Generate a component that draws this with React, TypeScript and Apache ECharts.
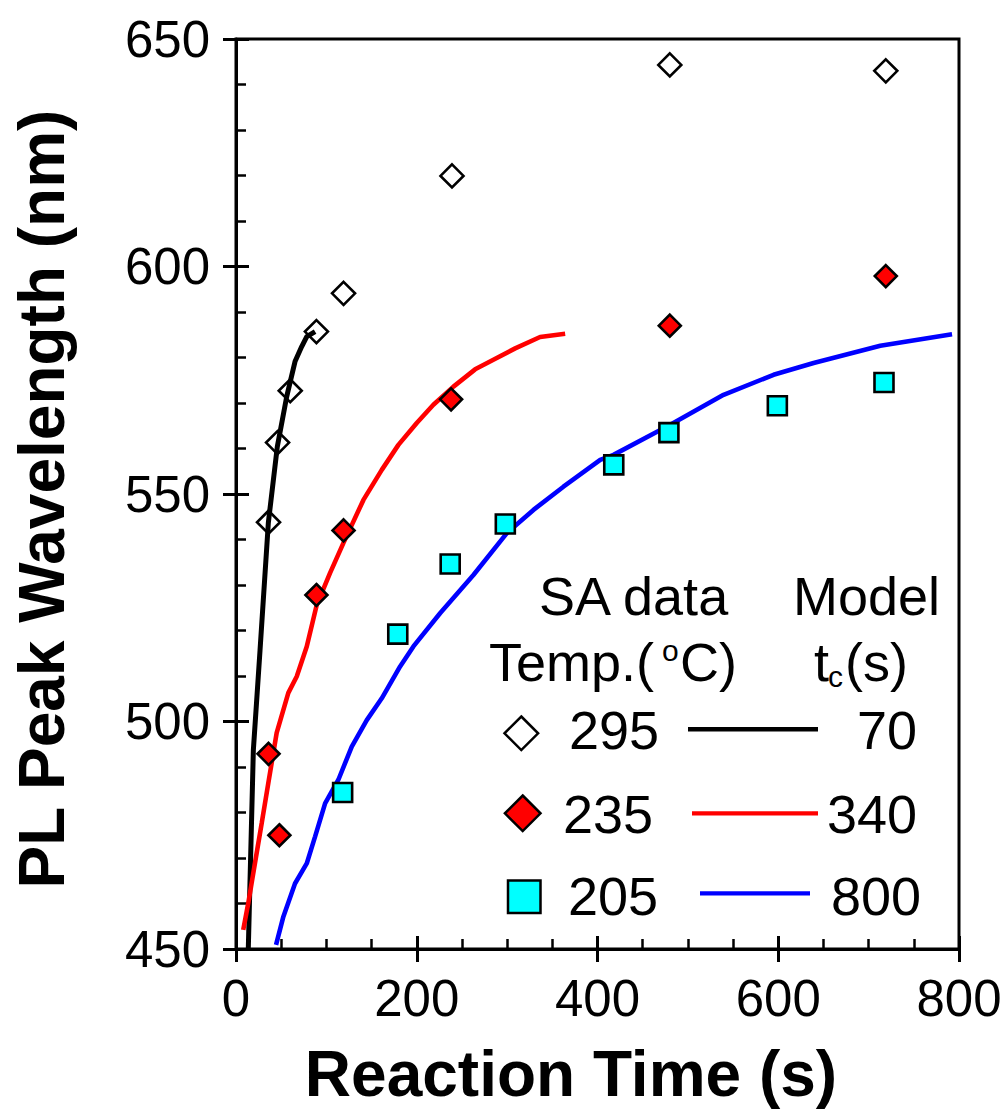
import React, { useEffect, useRef } from 'react';
import * as echarts from 'echarts';

// ---------- data ----------
const xTicks = [0, 200, 400, 600, 800];
const yTicks = [450, 500, 550, 600, 650];

const sa295Time = [36, 46, 60, 89, 119, 239, 480, 719];
const sa295Wl = [543.8, 561.3, 572.7, 585.7, 594.1, 619.9, 644.3, 643];
const sa235Time = [36, 48, 89, 119, 238, 480, 719];
const sa235Wl = [492.9, 475, 527.8, 542, 570.8, 587, 597.9];
const sa205Time = [118, 179, 237, 298, 418, 479, 599, 717];
const sa205Wl = [484.4, 519.2, 534.6, 543.4, 556.4, 563.5, 569.4, 574.5];

const model70Time = [13.6, 19.2, 26.6, 35.8, 45.7, 56.1, 65.3, 72.7, 78.3, 87.5];
const model70Wl = [450, 493.7, 515.7, 543.7, 560.4, 571.4, 579.1, 582.4, 584.6, 585.7];
const model340Time = [8, 13.6, 21, 28.5, 35.8, 45, 57.9, 67.2, 78.3, 89.3, 104, 118.8, 141, 161.3, 179.7, 200, 218.4, 240.6, 264.6, 284.8, 308.9, 336.5, 364.2];
const model340Wl = [454.2, 460.1, 468.9, 477.7, 486.5, 497.5, 506.3, 509.9, 516.5, 525.6, 532.6, 539.2, 548.7, 555.3, 560.8, 565.6, 569.6, 573.6, 577.4, 579.5, 582, 584.5, 585.2];
const model800Time = [44.3, 52.4, 65.3, 78.3, 87.5, 98.6, 113.3, 128.1, 144.7, 161.3, 181.6, 196.3, 225.8, 262.7, 299.7, 329.1, 362.3, 403, 417.7, 480.5, 539.5, 594.8, 639.1, 712.9, 792.3];
const model800Wl = [450.9, 457.1, 464.4, 468.8, 474.7, 482, 487.2, 494.5, 500.3, 505.1, 512.1, 516.5, 523.8, 532.2, 541.4, 546.5, 551.6, 557.5, 558.6, 565.2, 571.8, 576.2, 578.8, 582.6, 585.1];

const legendTemps = ['295', '235', '205'];
const legendTc = ['70', '340', '800'];

const zip = (a: number[], b: number[]) => a.map((v, i) => [v, b[i]]);

const FONT = '"Liberation Sans", Arial, Helvetica, sans-serif';
const GRID = { left: 236, top: 39, width: 723, height: 910 };
const LF = 54;

function txt(text: string, x: number, y: number, size: number, align: string, opts: any = {}) {
  return {
    type: 'text',
    x,
    y,
    rotation: opts.rotation || 0,
    style: {
      text,
      fill: '#000',
      fontSize: size,
      fontFamily: FONT,
      fontWeight: opts.bold ? 'bold' : 'normal',
      align,
      textAlign: align,
      verticalAlign: 'middle',
      textVerticalAlign: 'middle',
    },
    z: 100,
  };
}

function buildOption() {
  const axisCommonX = {
    type: 'value',
    min: xTicks[0],
    max: xTicks[xTicks.length - 1],
    interval: xTicks[1] - xTicks[0],
    splitLine: { show: false },
  };
  const axisCommonY = {
    type: 'value',
    min: yTicks[0],
    max: yTicks[yTicks.length - 1],
    interval: yTicks[1] - yTicks[0],
    splitLine: { show: false },
  };
  const lineStyleAxis = { color: '#000', width: 3 };

  const graphic: any[] = [
    txt('Reaction Time (s)', 571, 1074, 64, 'center', { bold: true }),
    txt('PL Peak Wavelength (nm)', 42, 499, 64, 'center', { bold: true, rotation: Math.PI / 2 }),
    txt('SA data', 539, 596, LF, 'left'),
    txt('Model', 793, 596, LF, 'left'),
    txt('Temp.(', 489, 662, LF, 'left'),
    txt('o', 662, 650, 30, 'left'),
    txt('C)', 680, 662, LF, 'left'),
    txt('t', 814, 662, LF, 'left'),
    txt('c', 828, 676, 30, 'left'),
    txt('(s)', 845, 662, LF, 'left'),
    txt(legendTemps[0], 569, 730, LF, 'left'),
    txt(legendTemps[1], 563, 814, LF, 'left'),
    txt(legendTemps[2], 568, 896, LF, 'left'),
    txt(legendTc[0], 917, 730, LF, 'right'),
    txt(legendTc[1], 917, 814, LF, 'right'),
    txt(legendTc[2], 921, 896, LF, 'right'),
    {
      type: 'polygon',
      shape: { points: [[521.3, 716.5], [538.1, 733.3], [521.3, 750.1], [504.5, 733.3]] },
      style: { fill: '#fff', stroke: '#000', lineWidth: 2.5 },
      z: 100,
    },
    {
      type: 'polygon',
      shape: { points: [[522.7, 795.5], [540.5, 813.3], [522.7, 831.1], [504.9, 813.3]] },
      style: { fill: '#ff0000', stroke: '#000', lineWidth: 2.5 },
      z: 100,
    },
    {
      type: 'rect',
      shape: { x: 508, y: 880.5, width: 32.5, height: 32.5 },
      style: { fill: '#00ffff', stroke: '#000', lineWidth: 2.5 },
      z: 100,
    },
    { type: 'line', shape: { x1: 688, y1: 729.3, x2: 818, y2: 729.3 }, style: { stroke: '#000', lineWidth: 4.5 }, z: 100 },
    { type: 'line', shape: { x1: 692, y1: 813.3, x2: 818, y2: 813.3 }, style: { stroke: '#ff0000', lineWidth: 4.3 }, z: 100 },
    { type: 'line', shape: { x1: 700, y1: 893.3, x2: 810, y2: 893.3 }, style: { stroke: '#0000ff', lineWidth: 4.3 }, z: 100 },
  ];

  return {
    animation: false,
    backgroundColor: '#fff',
    grid: [
      { ...GRID, show: true, borderColor: '#000', borderWidth: 3, backgroundColor: 'transparent' },
      { ...GRID, show: false },
    ],
    xAxis: [
      {
        ...axisCommonX,
        gridIndex: 0,
        position: 'bottom',
        axisLine: { show: true, lineStyle: lineStyleAxis },
        axisTick: { show: true, inside: false, length: 13, lineStyle: lineStyleAxis },
        axisLabel: { show: true, color: '#000', fontSize: 51, fontFamily: FONT, margin: 24 },
      },
      {
        ...axisCommonX,
        gridIndex: 1,
        position: 'bottom',
        axisLine: { show: false },
        axisTick: { show: true, inside: true, length: 13, lineStyle: lineStyleAxis },
        minorTick: { show: true, splitNumber: 4, length: 10, lineStyle: { color: '#000', width: 2.5 } },
        axisLabel: { show: false },
      },
    ],
    yAxis: [
      {
        ...axisCommonY,
        gridIndex: 0,
        position: 'left',
        axisLine: { show: true, lineStyle: lineStyleAxis },
        axisTick: { show: true, inside: false, length: 13, lineStyle: lineStyleAxis },
        axisLabel: { show: true, color: '#000', fontSize: 51, fontFamily: FONT, margin: 26 },
      },
      {
        ...axisCommonY,
        gridIndex: 1,
        position: 'left',
        axisLine: { show: false },
        axisTick: { show: true, inside: true, length: 13, lineStyle: lineStyleAxis },
        minorTick: { show: true, splitNumber: 5, length: 10, lineStyle: { color: '#000', width: 2.5 } },
        axisLabel: { show: false },
      },
    ],
    series: [
      {
        name: 'Model 70', type: 'line', xAxisIndex: 0, yAxisIndex: 0,
        data: zip(model70Time, model70Wl), showSymbol: false, symbol: 'none',
        lineStyle: { color: '#000', width: 5 }, z: 2,
      },
      {
        name: 'Model 340', type: 'line', xAxisIndex: 0, yAxisIndex: 0,
        data: zip(model340Time, model340Wl), showSymbol: false, symbol: 'none',
        lineStyle: { color: '#ff0000', width: 4.6 }, z: 2,
      },
      {
        name: 'Model 800', type: 'line', xAxisIndex: 0, yAxisIndex: 0,
        data: zip(model800Time, model800Wl), showSymbol: false, symbol: 'none',
        lineStyle: { color: '#0000ff', width: 4.6 }, z: 2,
      },
      {
        name: 'SA 295', type: 'scatter', xAxisIndex: 0, yAxisIndex: 0,
        data: zip(sa295Time, sa295Wl), symbol: 'diamond', symbolSize: 23,
        itemStyle: { color: 'transparent', borderColor: '#000', borderWidth: 2.6, opacity: 1 }, z: 1,
      },
      {
        name: 'SA 235', type: 'scatter', xAxisIndex: 0, yAxisIndex: 0,
        data: zip(sa235Time, sa235Wl), symbol: 'diamond', symbolSize: 22,
        itemStyle: { color: '#ff0000', borderColor: '#000', borderWidth: 2.6, opacity: 1 }, z: 3,
      },
      {
        name: 'SA 205', type: 'scatter', xAxisIndex: 0, yAxisIndex: 0,
        data: zip(sa205Time, sa205Wl), symbol: 'rect', symbolSize: 19,
        itemStyle: { color: '#00ffff', borderColor: '#000', borderWidth: 2.6, opacity: 1 }, z: 3,
      },
    ],
    graphic,
  };
}

export default function App() {
  const ref = useRef<HTMLDivElement>(null);
  useEffect(() => {
    document.body.style.margin = '0';
    const chart = echarts.init(ref.current as HTMLDivElement, null, { renderer: 'svg' });
    chart.setOption(buildOption() as any);
    return () => chart.dispose();
  }, []);
  return <div ref={ref} style={{ width: 1008, height: 1118 }} />;
}
